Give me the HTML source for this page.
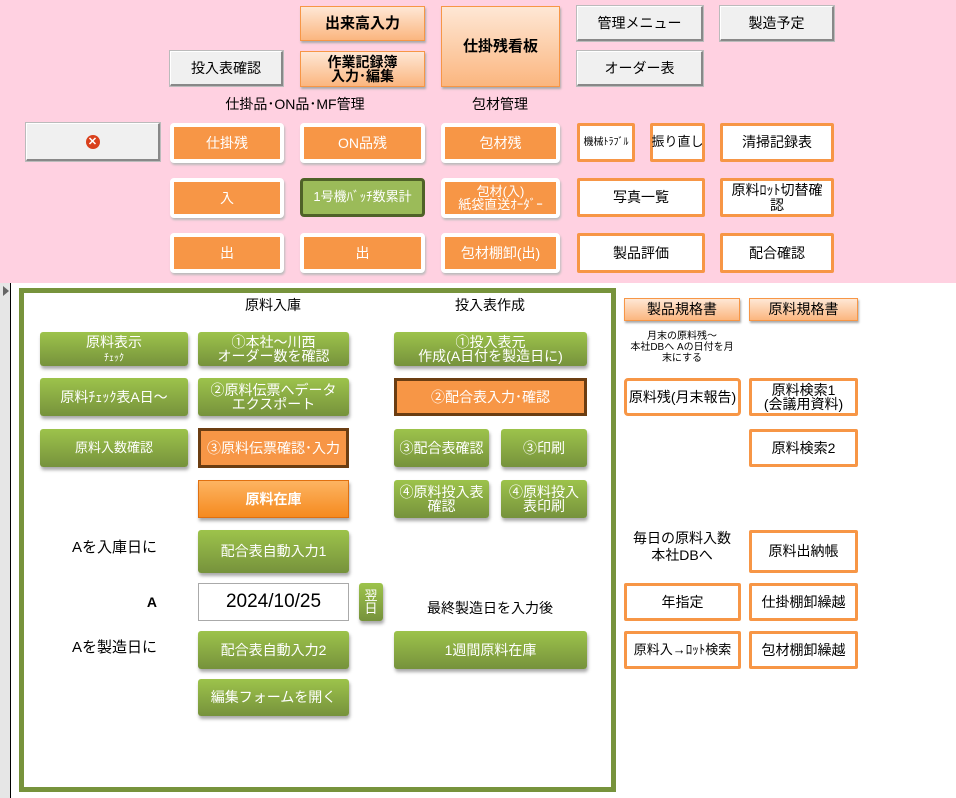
<!DOCTYPE html><html><head><meta charset="utf-8"><style>
*{box-sizing:border-box;margin:0;padding:0}
body{width:956px;height:798px;background:#fff;position:relative;overflow:hidden;font-family:"Liberation Sans","Noto Sans CJK JP",sans-serif;font-size:14px;color:#000}
.a{position:absolute;display:flex;flex-direction:column;align-items:center;justify-content:center;text-align:center;line-height:1.15}
.pk{position:absolute;left:0;top:0;width:956px;height:283px;background:#ffd1e1}
.gr{background:#f0f0f0;border:1px solid #fff;border-right:2px solid #888;border-bottom:2px solid #888;outline:1px solid #bbb}
.og{background:linear-gradient(#fee7d5,#fbb67f);border:1px solid #f79646;box-shadow:1px 2px 2px #aaa;font-weight:bold}
.ob{background:#f79646;border:4px solid #fff;border-radius:4px;color:#fff;box-shadow:1px 2px 2px #bbb}
.wb{background:#fff;border:3px solid #f79646;border-radius:2px}
.gn{background:linear-gradient(#9dc34b,#76923c);border-radius:3px;color:#fff;box-shadow:1px 3px 3px #aaa}
.lb{position:absolute;text-align:center;line-height:1.2}
</style></head><body>
<div class="pk"></div>
<div class="a og" style="left:300px;top:6px;width:125px;height:35px;font-size:15px">出来高入力</div>
<div class="a og" style="left:300px;top:51px;width:125px;height:36px;font-size:14px;line-height:1"><div>作業記録簿<br>入力･編集</div></div>
<div class="a gr" style="left:170px;top:51px;width:113px;height:35px">投入表確認</div>
<div class="a og" style="left:441px;top:6px;width:119px;height:81px;font-size:15px">仕掛残看板</div>
<div class="a gr" style="left:577px;top:6px;width:126px;height:35px">管理メニュー</div>
<div class="a gr" style="left:720px;top:6px;width:114px;height:35px">製造予定</div>
<div class="a gr" style="left:577px;top:51px;width:126px;height:35px">オーダー表</div>
<div class="lb" style="left:200px;top:96px;width:190px">仕掛品･ON品･MF管理</div>
<div class="lb" style="left:440px;top:96px;width:120px">包材管理</div>
<div class="a gr" style="left:26px;top:123px;width:134px;height:38px"><span style="display:inline-block;width:14px;height:14px;border-radius:50%;background:#d9401c;color:#fff;font-size:11px;line-height:14px;font-weight:bold">✕</span></div>
<div class="a ob" style="left:170px;top:123px;width:114px;height:40px">仕掛残</div>
<div class="a ob" style="left:300px;top:123px;width:125px;height:40px">ON品残</div>
<div class="a ob" style="left:441px;top:123px;width:119px;height:40px">包材残</div>
<div class="a ob" style="left:170px;top:178px;width:114px;height:40px">入</div>
<div class="a" style="left:300px;top:178px;width:125px;height:39px;background:#9bbb59;border:3px solid #4f6228;border-radius:4px;color:#fff;font-size:13px">1号機ﾊﾞｯﾁ数累計</div>
<div class="a ob" style="left:441px;top:178px;width:119px;height:40px;font-size:13px;line-height:1"><div>包材(入)<br>紙袋直送ｵｰﾀﾞｰ</div></div>
<div class="a ob" style="left:170px;top:233px;width:114px;height:40px">出</div>
<div class="a ob" style="left:300px;top:233px;width:125px;height:40px">出</div>
<div class="a ob" style="left:441px;top:233px;width:119px;height:40px">包材棚卸(出)</div>
<div class="a wb" style="left:577px;top:123px;width:58px;height:39px;font-size:10px">機械ﾄﾗﾌﾞﾙ</div>
<div class="a wb" style="left:650px;top:123px;width:55px;height:39px;font-size:13px;white-space:nowrap">振り直し</div>
<div class="a wb" style="left:720px;top:123px;width:114px;height:39px">清掃記録表</div>
<div class="a wb" style="left:577px;top:178px;width:128px;height:39px">写真一覧</div>
<div class="a wb" style="left:720px;top:178px;width:114px;height:39px;line-height:1.05"><div>原料ﾛｯﾄ切替確<br>認</div></div>
<div class="a wb" style="left:577px;top:233px;width:128px;height:40px">製品評価</div>
<div class="a wb" style="left:720px;top:233px;width:114px;height:40px">配合確認</div>

<div style="position:absolute;left:0;top:283px;width:11px;height:515px;background:#e6e6e6;border-right:1px solid #000"></div>
<div style="position:absolute;left:3px;top:286px;width:0;height:0;border-left:6px solid #666;border-top:5px solid transparent;border-bottom:5px solid transparent"></div>
<div style="position:absolute;left:19px;top:288px;width:597px;height:504px;border:5px solid #77933c"></div>
<div class="lb" style="left:213px;top:297px;width:120px">原料入庫</div>
<div class="lb" style="left:430px;top:297px;width:120px">投入表作成</div>
<div class="a gn" style="left:40px;top:332px;width:148px;height:34px;line-height:1"><div>原料表示<br><span style="font-size:10px">ﾁｪｯｸ</span></div></div>
<div class="a gn" style="left:40px;top:378px;width:148px;height:38px">原料ﾁｪｯｸ表A日～</div>
<div class="a gn" style="left:40px;top:429px;width:148px;height:38px;font-size:13px">原料入数確認</div>
<div class="a gn" style="left:198px;top:332px;width:151px;height:34px;line-height:1"><div>①本社～川西<br>オーダー数を確認</div></div>
<div class="a gn" style="left:198px;top:378px;width:151px;height:38px;line-height:1"><div>②原料伝票へデータ<br>エクスポート</div></div>
<div class="a" style="left:198px;top:428px;width:151px;height:40px;background:#f79646;border:3px solid #6b3d12;color:#fff">③原料伝票確認･入力</div>
<div class="a" style="left:198px;top:480px;width:151px;height:38px;background:linear-gradient(#fdb462,#f58a1f);border:1px solid #e07010;color:#fff;font-weight:bold;box-shadow:1px 3px 3px #aaa">原料在庫</div>
<div class="a gn" style="left:198px;top:530px;width:151px;height:43px">配合表自動入力1</div>
<div class="a" style="left:198px;top:583px;width:151px;height:38px;border:1px solid #aaa;font-size:19px;background:#fff">2024/10/25</div>
<div class="a gn" style="left:359px;top:583px;width:24px;height:38px;font-size:13px;line-height:1"><div>翌<br>日</div></div>
<div class="a gn" style="left:198px;top:631px;width:151px;height:38px">配合表自動入力2</div>
<div class="a gn" style="left:198px;top:679px;width:151px;height:37px">編集フォームを開く</div>
<div class="lb" style="left:50px;top:539px;width:107px;text-align:right;font-size:15px">Aを入庫日に</div>
<div class="lb" style="left:130px;top:594px;width:27px;text-align:right;font-weight:bold">A</div>
<div class="lb" style="left:50px;top:639px;width:107px;text-align:right;font-size:15px">Aを製造日に</div>
<div class="a gn" style="left:394px;top:332px;width:193px;height:34px;line-height:1"><div>①投入表元<br>作成(A日付を製造日に)</div></div>
<div class="a" style="left:394px;top:378px;width:193px;height:38px;background:#f79646;border:3px solid #6b3d12;color:#fff">②配合表入力･確認</div>
<div class="a gn" style="left:394px;top:429px;width:95px;height:38px">③配合表確認</div>
<div class="a gn" style="left:501px;top:429px;width:86px;height:38px">③印刷</div>
<div class="a gn" style="left:394px;top:480px;width:95px;height:38px;line-height:1"><div>④原料投入表<br>確認</div></div>
<div class="a gn" style="left:501px;top:480px;width:86px;height:38px;line-height:1"><div>④原料投入<br>表印刷</div></div>
<div class="lb" style="left:400px;top:600px;width:180px">最終製造日を入力後</div>
<div class="a gn" style="left:394px;top:631px;width:193px;height:38px">1週間原料在庫</div>

<div class="a og" style="left:624px;top:298px;width:116px;height:23px;font-weight:normal">製品規格書</div>
<div class="a og" style="left:749px;top:298px;width:109px;height:23px;font-weight:normal">原料規格書</div>
<div class="lb" style="left:622px;top:331px;width:120px;font-size:10px;line-height:1.1">月末の原料残～<br>本社DBへ Aの日付を月<br>末にする</div>
<div class="a wb" style="left:624px;top:378px;width:117px;height:38px;border-radius:4px">原料残(月末報告)</div>
<div class="a wb" style="left:749px;top:378px;width:109px;height:38px;line-height:1"><div>原料検索1<br>(会議用資料)</div></div>
<div class="a wb" style="left:749px;top:429px;width:109px;height:38px">原料検索2</div>
<div class="lb" style="left:622px;top:530px;width:120px">毎日の原料入数<br>本社DBへ</div>
<div class="a wb" style="left:749px;top:530px;width:109px;height:43px">原料出納帳</div>
<div class="a wb" style="left:624px;top:583px;width:117px;height:38px">年指定</div>
<div class="a wb" style="left:749px;top:583px;width:109px;height:38px">仕掛棚卸繰越</div>
<div class="a wb" style="left:624px;top:631px;width:117px;height:38px;font-size:13px">原料入→ﾛｯﾄ検索</div>
<div class="a wb" style="left:749px;top:631px;width:109px;height:38px">包材棚卸繰越</div>
</body></html>
